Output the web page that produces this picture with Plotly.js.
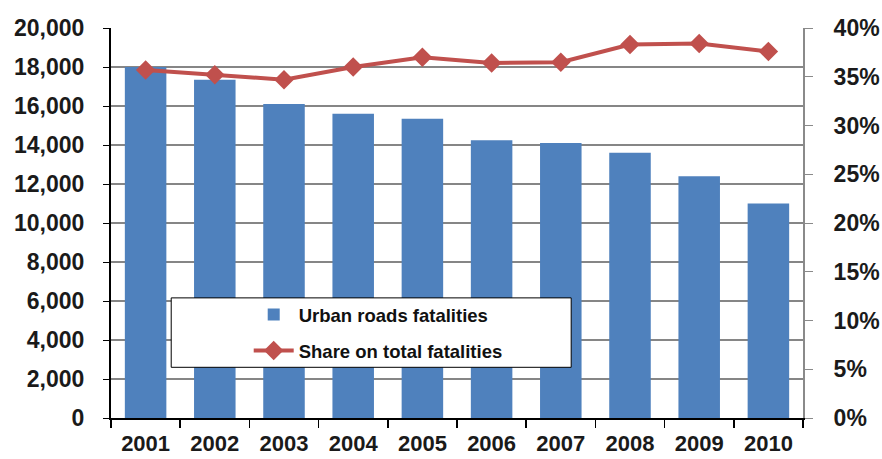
<!DOCTYPE html>
<html><head><meta charset="utf-8">
<script src="https://cdn.plot.ly/plotly-3.0.1.min.js"></script>
<style>html,body{margin:0;padding:0;background:#fff}#chart{width:882px;height:459px}</style>
</head><body><div id="chart"></div>
<script>
const years = ['2001','2002','2003','2004','2005','2006','2007','2008','2009','2010'];
const urbanFatalities = [18000, 17350, 16100, 15600, 15350, 14250, 14100, 13600, 12400, 11000];
const shareOnTotal = [0.357, 0.352, 0.347, 0.360, 0.370, 0.364, 0.365, 0.383, 0.384, 0.376];
const leftTicks = [0,2000,4000,6000,8000,10000,12000,14000,16000,18000,20000];

const tickFont = {family: 'Liberation Sans, Arial, sans-serif', size: 23, color: '#1a1a1a', weight: 'bold'};
const xTickFont = {family: 'Liberation Sans, Arial, sans-serif', size: 22, color: '#1a1a1a', weight: 'bold'};
const legendFont = {family: 'Liberation Sans, Arial, sans-serif', size: 18.5, color: '#111', weight: 'bold'};

const traces = [
  {type: 'bar', x: years, y: urbanFatalities, name: 'Urban roads fatalities',
   marker: {color: '#4F81BD'}, width: 0.6, legend: 'legend'},
  {type: 'scatter', mode: 'lines+markers', x: years, y: shareOnTotal, yaxis: 'y2',
   name: 'Share on total fatalities', legend: 'legend2',
   line: {color: '#C0504D', width: 4},
   marker: {symbol: 'diamond', size: 15, color: '#C0504D'}}
];

const legendCommon = {bgcolor: 'rgba(0,0,0,0)', borderwidth: 0, font: legendFont, itemwidth: 40,
  xanchor: 'left', yanchor: 'middle', x: 0.199};

const layout = {
  width: 882, height: 459,
  margin: {l: 111, r: 79, t: 28, b: 41},
  paper_bgcolor: '#fff', plot_bgcolor: '#fff',
  showlegend: true,
  legend: Object.assign({}, legendCommon, {y: 0.264}),
  legend2: Object.assign({}, legendCommon, {y: 0.172}),
  xaxis: {type: 'category', showline: true, linecolor: '#000', linewidth: 2,
    ticks: 'outside', ticklen: 8, tickcolor: '#000', tickwidth: 1.5, tickson: 'boundaries',
    tickfont: xTickFont, ticklabelstandoff: 5, showgrid: false, range: [-0.5, 9.5]},
  yaxis: {range: [0, 20000], tickvals: leftTicks, tickformat: ',d',
    showline: true, linecolor: '#000', linewidth: 2, ticks: 'outside', ticklen: 6,
    tickcolor: '#000', tickfont: tickFont, ticklabelstandoff: 14,
    showgrid: true, gridcolor: '#868686', gridwidth: 2, zeroline: false},
  yaxis2: {overlaying: 'y', side: 'right', range: [0, 0.4], dtick: 0.05, tickformat: '.0%',
    showline: true, linecolor: '#8a8a8a', linewidth: 2, ticks: 'outside', ticklen: 8,
    tickcolor: '#8a8a8a', tickfont: tickFont, ticklabelstandoff: 16, showgrid: false, zeroline: false},
  shapes: [{type: 'rect', xref: 'paper', yref: 'paper', x0: 0.087, x1: 0.665, y0: 0.13, y1: 0.308,
    line: {color: '#000', width: 1}, fillcolor: '#fff', layer: 'above'}]
};

Plotly.newPlot('chart', traces, layout, {displayModeBar: false, staticPlot: true});
</script></body></html>
